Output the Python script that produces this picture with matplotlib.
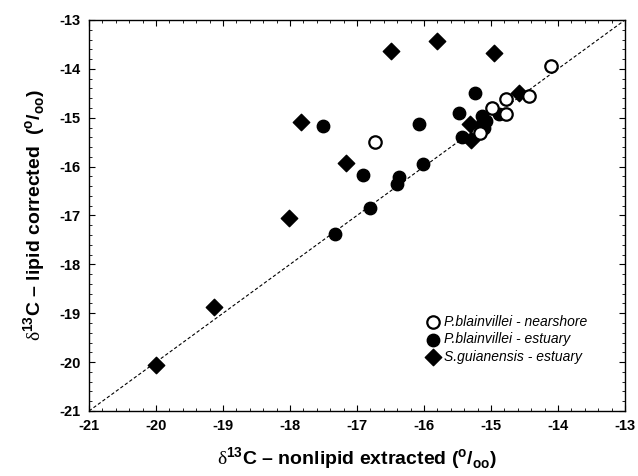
import numpy as np
import matplotlib
matplotlib.use('Agg')
import matplotlib.pyplot as plt
from matplotlib.ticker import MultipleLocator

# P.blainvillei - nearshore (open circles)
near_x = [-16.73, -14.10, -14.43, -14.78, -14.98, -14.78, -15.16]
near_y = [-15.50, -13.95, -14.56, -14.62, -14.81, -14.93, -15.31]

# P.blainvillei - estuary (filled circles)
est_x = [-17.50, -16.91, -16.08, -16.38, -16.40, -16.01, -16.81, -17.33,
         -15.24, -15.47, -15.13, -15.07, -15.11, -15.44, -14.88, -15.14]
est_y = [-15.17, -16.17, -15.13, -16.21, -16.36, -15.95, -16.84, -17.37,
         -14.49, -14.91, -14.96, -15.07, -15.20, -15.40, -14.93, -15.13]

# S.guianensis - estuary (diamonds)
sg_x = [-20.00, -19.13, -18.01, -17.83, -17.16, -16.49, -15.80, -14.95,
        -14.58, -15.31, -15.30]
sg_y = [-20.05, -18.88, -17.05, -15.09, -15.92, -13.64, -13.44, -13.68,
        -14.49, -15.12, -15.46]

lims = [-21, -13]

plt.rcParams['font.family'] = ['Liberation Sans', 'DejaVu Sans']
plt.rcParams['axes.unicode_minus'] = False
plt.rcParams['mathtext.fontset'] = 'custom'
plt.rcParams['mathtext.rm'] = 'Liberation Serif'
plt.rcParams['mathtext.bf'] = 'Liberation Sans:bold'

fig = plt.figure(figsize=(6.38, 4.76), dpi=100)
ax = fig.add_axes([0.1395, 0.1366, 0.8401, 0.8214])

# 1:1 line
ax.plot(lims, lims, color='black', linestyle=(0, (3, 2)), linewidth=0.8, zorder=1)

ax.scatter(est_x, est_y, marker='o', s=80, facecolor='black', edgecolor='black',
           linewidth=1, label='P.blainvillei - estuary', zorder=3)
ax.scatter(sg_x, sg_y, marker='D', s=70, facecolor='black', edgecolor='black',
           linewidth=1, label='S.guianensis - estuary', zorder=3)
ax.scatter(near_x, near_y, marker='o', s=80, facecolor='white', edgecolor='black',
           linewidth=1.6, label='P.blainvillei - nearshore', zorder=4)

ax.set_xlim(lims)
ax.set_ylim(lims)
ax.xaxis.set_major_locator(MultipleLocator(1))
ax.yaxis.set_major_locator(MultipleLocator(1))
ax.xaxis.set_minor_locator(MultipleLocator(0.2))
ax.yaxis.set_minor_locator(MultipleLocator(0.2))
ax.tick_params(which='both', direction='in', top=True, right=True)
ax.tick_params(which='major', length=4, width=0.8, labelsize=10.5, pad=6)
ax.tick_params(which='minor', length=2, width=0.6)
for lab in ax.get_xticklabels() + ax.get_yticklabels():
    lab.set_fontweight('bold')
for sp in ax.spines.values():
    sp.set_linewidth(1.0)

ax.set_xlabel(r'$\mathrm{\delta}^{\mathbf{13}}$C – nonlipid extracted ($^{\mathbf{o}}$/$_{\mathbf{oo}}$)',
              fontsize=14, fontweight='bold', labelpad=9)
ax.set_ylabel(r'$\mathrm{\delta}^{\mathbf{13}}$C – lipid corrected  ($^{\mathbf{o}}$/$_{\mathbf{oo}}$)',
              fontsize=14, fontweight='bold', labelpad=8)

handles, labels = ax.get_legend_handles_labels()
order = [2, 0, 1]
leg = ax.legend([handles[i] for i in order], [labels[i] for i in order],
                loc='upper left', bbox_to_anchor=(0.615, 0.26), frameon=False,
                prop={'style': 'italic', 'size': 10}, handletextpad=0.2,
                labelspacing=0.25, borderaxespad=0, handlelength=1.2)

fig.savefig('out.png', dpi=100)
